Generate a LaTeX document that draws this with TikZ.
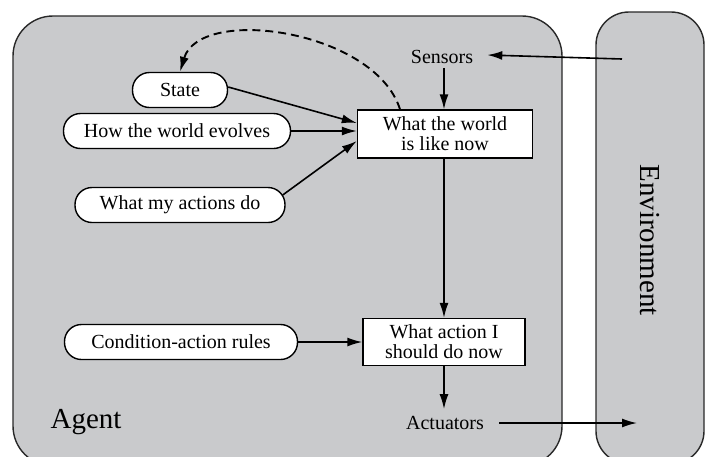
\documentclass[tikz,border=0pt]{standalone}
\usepackage{fontspec}
\setmainfont{Liberation Serif}
\usetikzlibrary{arrows.meta}
\definecolor{panelgray}{RGB}{201,202,204}
\definecolor{edgegray}{RGB}{40,40,40}
\begin{document}
\begin{tikzpicture}[x=1pt,y=-1pt,
  box/.style={draw=black, fill=white, line width=1.4pt, inner sep=0pt, align=center,
              font=\fontsize{20}{20}\selectfont},
  pill/.style={box, rounded corners=17pt, minimum height=35pt},
  rect/.style={box, minimum height=48pt},
  lbl/.style={font=\fontsize{20}{20}\selectfont, inner sep=0pt},
  conn/.style={line width=1.6pt, -{Latex[length=15pt,width=9pt]}},
  memory/.style={conn, line width=1.9pt, dash pattern=on 8pt off 5pt}
]
\useasboundingbox (0,0) rectangle (705,456);
\begin{scope}
  \clip (0,0) rectangle (705,456);
  % agent and environment panels
  \draw[fill=panelgray, draw=edgegray, line width=1.4pt, rounded corners=40pt]
    (13,16) rectangle (562,466);
  \draw[fill=panelgray, draw=edgegray, line width=1.4pt, rounded corners=33pt]
    (596,12) rectangle (704,464);
\end{scope}

\node[lbl, font=\fontsize{29}{29}\selectfont] (agent) at (86,422) {Agent};
\node[lbl, font=\fontsize{29}{29}\selectfont, rotate=-90] (env) at (650,240) {Environment};

% percepts and actions
\node[lbl] (sensors) at (442,57) {Sensors};
\node[lbl] (actuators) at (445,423) {Actuators};
\coordinate (envin) at (622,59);
\coordinate (envout) at (637,423);

% internal state and knowledge
\node[pill, minimum width=95pt] (state) at (180,90) {State};
\node[pill, minimum width=227pt] (evolves) at (177,131) {How the world evolves};
\node[pill, minimum width=210pt] (effects) at (180,205) {What my actions do};
\node[pill, minimum width=233pt] (rules) at (181,342) {Condition-action rules};

\node[rect, minimum width=175pt] (world) at (445,134) {What the world\\is like now};
\node[rect, minimum width=162pt, minimum height=47pt] (action) at (444,342) {What action I\\should do now};

% connectors
\draw[conn] (envin) -- ([xshift=14pt,yshift=2pt]sensors.east);
\draw[conn] ([xshift=2pt,yshift=-4pt]sensors.south) -- ([xshift=2pt]sensors.south |- world.north);
\draw[conn] ([yshift=3pt]state.east) -- ([yshift=11pt]world.west);
\draw[conn] (evolves.east) -- ([yshift=3pt]world.west);
\draw[conn] ([xshift=-3pt,yshift=10pt]effects.east) -- ([yshift=-7pt]world.west);
\draw[conn] (rules.east) -- (rules.east -| action.west);
\draw[conn] (world.south -| action.north) -- (action.north);
\draw[conn] (action.south) -- ([yshift=7pt]action.south |- actuators.north);
\draw[conn] ([xshift=15pt]actuators.east) -- (envout);
\draw[memory] ([xshift=-45pt]world.north) .. controls (375,30) and (200,5) .. (state.north);
\end{tikzpicture}
\end{document}
